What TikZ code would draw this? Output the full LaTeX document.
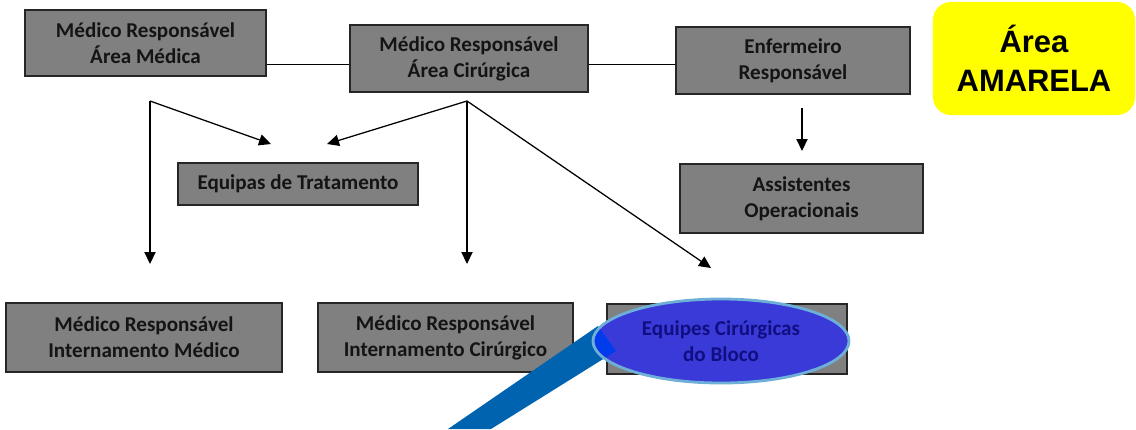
\documentclass[tikz,border=0pt]{standalone}
\usepackage{fontspec}
\setmainfont{Carlito}
\newfontfamily\arialfont{Liberation Sans}
\usetikzlibrary{arrows.meta}
\usetikzlibrary{shapes.geometric}
\definecolor{caixacinza}{RGB}{128,128,128}
\definecolor{textoescuro}{RGB}{20,20,20}
\definecolor{amarelo}{RGB}{255,255,0}
\definecolor{faixaazul}{RGB}{0,99,176}
\definecolor{elipseazul}{RGB}{58,58,216}
\definecolor{bordaazul}{RGB}{110,175,215}
\definecolor{textoazul}{RGB}{15,15,130}
\definecolor{azulvivo}{RGB}{0,60,235}

\tikzset{
  caixa/.style={rectangle,draw=black!85,line width=0.8pt,fill=caixacinza,text=textoescuro,
    font=\bfseries\fontsize{15}{18.5}\selectfont,align=center,inner sep=0pt},
  seta/.style={line width=0.9pt,-{Triangle[length=3mm,width=2.8mm]}},
  ligacao/.style={line width=0.9pt}
}

\begin{document}
\begin{tikzpicture}[x=0.025cm,y=-0.025cm]
\useasboundingbox (0,0) rectangle (1136,429);

% linha de cima
\node[caixa,minimum width=6.025cm,minimum height=1.65cm] (medarea) at (145.5,43) {Médico Responsável\\Área Médica};
\node[caixa,minimum width=5.95cm,minimum height=1.675cm] (cirarea) at (469,58.5) {Médico Responsável\\Área Cirúrgica};
\node[caixa,minimum width=5.85cm,minimum height=1.675cm] (enfresp) at (793,60.5) {Enfermeiro\\Responsável};
\node[rectangle,rounded corners=0.45cm,fill=amarelo,minimum width=5.05cm,minimum height=2.825cm,
  align=center,font=\arialfont\bfseries\fontsize{22}{28}\selectfont] (amarela) at (1034,58.5) {Área\\AMARELA};

\draw[ligacao] ([yshift=-0.15cm]cirarea.west) -- ([yshift=-0.15cm]cirarea.west -| medarea.east);
\draw[ligacao] ([yshift=-0.15cm]cirarea.east) -- ([yshift=-0.15cm]cirarea.east -| enfresp.west);

% nivel do meio
\node[caixa,minimum width=6cm,minimum height=1.05cm] (tratam) at (298,184) {Equipas de Tratamento};
\node[caixa,minimum width=6.075cm,minimum height=1.725cm] (assist) at (801.5,198.5) {Assistentes\\Operacionais};

% linha de baixo
\node[caixa,minimum width=6.9cm,minimum height=1.725cm] (intmed) at (144,337.5) {Médico Responsável\\Internamento Médico};
\node[caixa,minimum width=6.375cm,minimum height=1.725cm] (intcir) at (445.5,337.5) {Médico Responsável\\Internamento Cirúrgico};
\node[caixa,minimum width=6cm,minimum height=1.75cm] (bloco) at (727,339) {};

% setas
\coordinate (pm) at (150,101);
\coordinate (pc) at (467,101);
\coordinate (pe) at (802,108);
\coordinate (tL) at (271,144);
\coordinate (tR) at (327,144);
\coordinate (bL) at (150,264);
\coordinate (bC) at (467,264);
\coordinate (bR) at (711,268);
\coordinate (aE) at (802,151);
\draw[seta] (pm) -- (bL);
\draw[seta] (pm) -- (tL);
\draw[seta] (pc) -- (tR);
\draw[seta] (pc) -- (bC);
\draw[seta] (pc) -- (bR);
\draw[seta] (pe) -- (aE);

% lupa
\fill[faixaazul] (448,429) -- (598,326) -- (616,351) -- (491,429) -- cycle;
\node[ellipse,draw=bordaazul,line width=2pt,fill=elipseazul,minimum width=6.4cm,minimum height=2.1cm,
  text=textoazul,font=\bfseries\fontsize{15}{18.5}\selectfont,align=center] (realce) at (721,341)
  {Equipes Cirúrgicas\\do Bloco};
\begin{scope}
\clip (721,341) ellipse [x radius=126, y radius=40];
\fill[azulvivo] (448,429) -- (598,326) -- (616,351) -- (491,429) -- cycle;
\end{scope}

\end{tikzpicture}
\end{document}
